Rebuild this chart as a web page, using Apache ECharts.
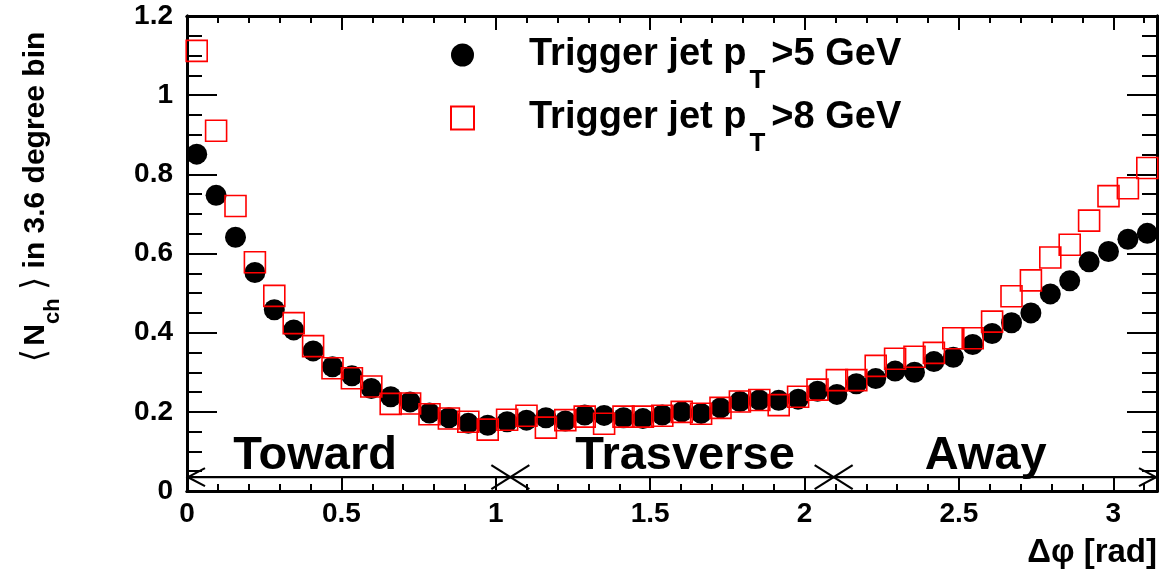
<!DOCTYPE html>
<html>
<head>
<meta charset="utf-8">
<script src="https://cdn.jsdelivr.net/npm/echarts@6/dist/echarts.min.js"></script>
<style>
  html, body { margin: 0; padding: 0; background: #fff; }
  #chart { width: 1174px; height: 576px; }
</style>
</head>
<body>
<div id="chart"></div>
<script>
// Azimuthal distribution of charged particles relative to the trigger jet,
// 50 bins of 3.6 degrees covering 0..pi.
const NBINS = 50;
const binWidth = Math.PI / NBINS;
const phiCenters = Array.from({ length: NBINS }, (_, i) => (i + 0.5) * binWidth);

// <N_ch> per bin, trigger jet pT > 5 GeV
const nchPt5 = [
  0.851, 0.747, 0.641, 0.552, 0.458, 0.407, 0.354, 0.314, 0.291, 0.259,
  0.238, 0.225, 0.197, 0.185, 0.171, 0.166, 0.175, 0.179, 0.185, 0.177,
  0.192, 0.191, 0.185, 0.183, 0.192, 0.200, 0.196, 0.210, 0.226, 0.230,
  0.229, 0.232, 0.252, 0.244, 0.271, 0.284, 0.303, 0.300, 0.327, 0.338,
  0.370, 0.398, 0.425, 0.450, 0.498, 0.531, 0.579, 0.605, 0.636, 0.651
];

// <N_ch> per bin, trigger jet pT > 8 GeV
const nchPt8 = [
  1.112, 0.910, 0.720, 0.578, 0.493, 0.424, 0.366, 0.310, 0.285, 0.264,
  0.220, 0.221, 0.194, 0.183, 0.175, 0.155, 0.180, 0.190, 0.160, 0.179,
  0.188, 0.170, 0.188, 0.188, 0.190, 0.200, 0.195, 0.210, 0.226, 0.230,
  0.217, 0.238, 0.256, 0.280, 0.280, 0.316, 0.334, 0.339, 0.349, 0.386,
  0.386, 0.428, 0.492, 0.532, 0.590, 0.622, 0.683, 0.745, 0.765, 0.816
];

const seriesNames = ['Trigger jet p_T>5 GeV', 'Trigger jet p_T>8 GeV'];

// Toward / Transverse / Away regions, boundaries at pi/3 and 2pi/3
const regionNames = ['Toward', 'Trasverse', 'Away'];
const regionEdges = [Math.PI / 3, 2 * Math.PI / 3];

const xTickLabels = ['0', '0.5', '1', '1.5', '2', '2.5', '3'];
const yTickLabels = ['0', '0.2', '0.4', '0.6', '0.8', '1', '1.2'];

const X_MAX = Math.PI;
const Y_MAX = 1.2;
const FONT = '"Liberation Sans", Arial, Helvetica, sans-serif';

// layout of the region strip (in axis units)
const regionLineLevel = 0.035;
const regionLabelX = [0.415, 1.613, 2.587];

const chart = echarts.init(document.getElementById('chart'), null, { renderer: 'canvas' });

function xAxisDef(position, interval, tickLen, withLabels) {
  return {
    type: 'value', min: 0, max: X_MAX, interval: interval, position: position,
    axisLine: { show: true, onZero: false, lineStyle: { color: '#000', width: 3 } },
    axisTick: { show: true, inside: true, length: tickLen, lineStyle: { color: '#000', width: 2 } },
    axisLabel: withLabels ? {
      show: true, color: '#000', fontFamily: FONT, fontWeight: 'bold', fontSize: 28, margin: 9,
      showMaxLabel: false,
      formatter: v => {
        const idx = Math.round(v / 0.5);
        return Math.abs(v - idx * 0.5) < 1e-6 && xTickLabels[idx] !== undefined ? xTickLabels[idx] : '';
      }
    } : { show: false },
    splitLine: { show: false }
  };
}

function yAxisDef(position, interval, tickLen, withLabels) {
  return {
    type: 'value', min: 0, max: Y_MAX, interval: interval, position: position,
    axisLine: { show: true, onZero: false, lineStyle: { color: '#000', width: 3 } },
    axisTick: { show: true, inside: true, length: tickLen, lineStyle: { color: '#000', width: 2 } },
    axisLabel: withLabels ? {
      show: true, color: '#000', fontFamily: FONT, fontWeight: 'bold', fontSize: 28, margin: 14,
      formatter: v => {
        const idx = Math.round(v / 0.2);
        return yTickLabels[idx] !== undefined ? yTickLabels[idx] : '';
      }
    } : { show: false },
    splitLine: { show: false }
  };
}

// legend text: large bold with a dropped subscript
const legendRich = {
  gap: { width: 50, fontSize: 38, lineHeight: 38 },
  m: { fontSize: 38, fontWeight: 'bold', fontFamily: FONT, color: '#000', lineHeight: 38, verticalAlign: 'middle' },
  s: { fontSize: 26, fontWeight: 'bold', fontFamily: FONT, color: '#000', lineHeight: 0, verticalAlign: 'top', padding: [32, 6, 0, 3] }
};

function richName(name) {
  const parts = name.split('_');
  const sub = parts[1].charAt(0);
  return '{gap|}{m|' + parts[0] + '}{s|' + sub + '}{m|' + parts[1].slice(1) + '}';
}

const option = {
  animation: false,
  backgroundColor: '#fff',
  grid: { left: 187, right: 17, top: 16, bottom: 85, containLabel: false },
  xAxis: [
    xAxisDef('bottom', 0.5, 14, true),
    xAxisDef('bottom', 0.1, 7, false),
    xAxisDef('top', 0.5, 14, false),
    xAxisDef('top', 0.1, 7, false)
  ],
  yAxis: [
    yAxisDef('left', 0.2, 30, true),
    yAxisDef('left', 0.05, 15, false),
    yAxisDef('right', 0.2, 30, false),
    yAxisDef('right', 0.05, 15, false)
  ],
  legend: {
    orient: 'vertical',
    left: 445, top: 31,
    itemWidth: 23, itemHeight: 23, itemGap: 5,
    selectedMode: false,
    data: seriesNames,
    formatter: richName,
    textStyle: { rich: legendRich, fontSize: 38, fontWeight: 'bold', fontFamily: FONT, color: '#000' }
  },
  graphic: [
    {
      type: 'text', x: 36, y: 197, rotation: Math.PI / 2,
      style: {
        text: '{b|⟨} {m|N}{s|ch}{m| }{b|⟩}{m| in 3.6 degree bin}',
        align: 'center', verticalAlign: 'middle',
        rich: {
          m: { fontSize: 30, fontWeight: 'bold', fontFamily: FONT, fill: '#000', lineHeight: 30, verticalAlign: 'middle' },
          b: { fontSize: 34, fontWeight: 'normal', fontFamily: '"DejaVu Sans", sans-serif', fill: '#000', lineHeight: 30, verticalAlign: 'middle' },
          s: { fontSize: 22, fontWeight: 'bold', fontFamily: FONT, fill: '#000', lineHeight: 0, verticalAlign: 'top', padding: [21, 0, 0, 0] }
        }
      }
    },
    {
      type: 'text', x: 1157, y: 553,
      style: {
        text: 'Δφ [rad]', align: 'right', verticalAlign: 'middle',
        font: 'bold 33px ' + FONT, fill: '#000'
      }
    }
  ],
  series: [
    {
      type: 'custom',
      coordinateSystem: 'cartesian2d',
      xAxisIndex: 0, yAxisIndex: 0,
      silent: true, z: 1,
      data: [[0, regionLineLevel]],
      renderItem: (params, api) => {
        const left = api.coord([0, regionLineLevel]);
        const right = api.coord([X_MAX, regionLineLevel]);
        const y = left[1];
        const ls = { stroke: '#000', lineWidth: 2.2 };
        const children = [
          { type: 'line', shape: { x1: left[0], y1: y, x2: right[0], y2: y }, style: ls },
          { type: 'polyline', shape: { points: [[left[0] + 18, y - 9], [left[0] + 1, y], [left[0] + 18, y + 9]] }, style: Object.assign({ fill: null }, ls) },
          { type: 'polyline', shape: { points: [[right[0] - 18, y - 9], [right[0] - 1, y], [right[0] - 18, y + 9]] }, style: Object.assign({ fill: null }, ls) }
        ];
        regionEdges.forEach(e => {
          const p = api.coord([e, regionLineLevel]);
          children.push({ type: 'line', shape: { x1: p[0] - 19, y1: p[1] - 12, x2: p[0] + 19, y2: p[1] + 12 }, style: ls });
          children.push({ type: 'line', shape: { x1: p[0] - 19, y1: p[1] + 12, x2: p[0] + 19, y2: p[1] - 12 }, style: ls });
        });
        regionNames.forEach((name, i) => {
          const p = api.coord([regionLabelX[i], regionLineLevel]);
          children.push({
            type: 'text',
            style: { text: name, x: p[0], y: p[1] + 2, align: 'center', verticalAlign: 'bottom',
                     font: 'bold 47px ' + FONT, fill: '#000' }
          });
        });
        return { type: 'group', children: children };
      }
    },
    {
      name: seriesNames[0],
      type: 'scatter',
      xAxisIndex: 0, yAxisIndex: 0,
      symbol: 'circle', symbolSize: 21, z: 3,
      itemStyle: { color: '#000', opacity: 1 },
      data: phiCenters.map((x, i) => [x, nchPt5[i]])
    },
    {
      name: seriesNames[1],
      type: 'scatter',
      xAxisIndex: 0, yAxisIndex: 0,
      symbol: 'rect', symbolSize: 21, z: 4,
      itemStyle: { color: 'rgba(0,0,0,0)', borderColor: '#ff0000', borderWidth: 1.6, opacity: 1 },
      data: phiCenters.map((x, i) => [x, nchPt8[i]])
    }
  ]
};

chart.setOption(option);
</script>
</body>
</html>
